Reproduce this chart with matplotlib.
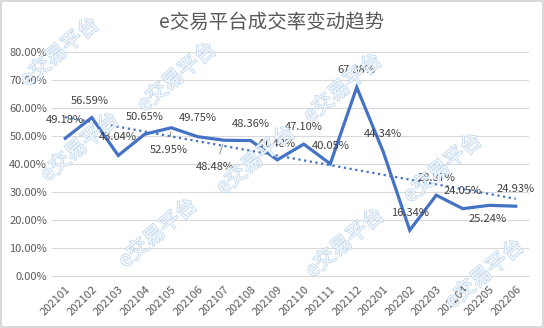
import numpy as np
import matplotlib.pyplot as plt
import matplotlib.patheffects as pe

plt.rcParams['font.family'] = ['Noto Sans CJK SC', 'DejaVu Sans']

# 成交率（%）
months = ['202101', '202102', '202103', '202104', '202105', '202106',
          '202107', '202108', '202109', '202110', '202111', '202112',
          '202201', '202202', '202203', '202204', '202205', '202206']
rate = [49.18, 56.59, 43.04, 50.65, 52.95, 49.75, 48.48, 48.36, 41.48,
        47.10, 40.05, 67.38, 44.34, 16.34, 28.87, 24.05, 25.24, 24.93]
y_ticks = [0, 10, 20, 30, 40, 50, 60, 70, 80]
title = 'e交易平台成交率变动趋势'
watermark = 'e交易平台'

# label placement (pixels relative to point)
label_dx = [0, -2, 0, 0, -3, 0, -9, 0, 0, 0, 0, 0, 0, 0, 0, 0, -2, 0]
label_dy = [18, 17, 18, 17, -22, 19, -27, 17, 16, 17, 18, 17, 18, 17, 17, 18, -14, 17]
# watermark centres in pixels (x from left, y from top)
wm_pos = [(60, 52), (177, 77), (80, 147), (158, 233), (256, 160),
          (343, 88), (345, 243), (443, 168), (485, 274)]

fig = plt.figure(figsize=(5.44, 3.28), dpi=100)
fig.patch.set_facecolor('white')
fig.patch.set_edgecolor('#D9D9D9')
fig.patch.set_linewidth(1.5)
ax = fig.add_axes([52 / 544, 52 / 328, 477 / 544, 224 / 328])

x = np.arange(len(months))
y = np.array(rate)

ax.plot(x, y, color='#4472C4', linewidth=2.3, solid_joinstyle='miter', zorder=3)

# linear trend line
coef = np.polyfit(x, y, 1)
ax.plot(x, np.polyval(coef, x), color='#4472C4', linestyle=(0, (1, 1.6)),
        linewidth=1.6, zorder=2)

for i, v in enumerate(rate):
    kw = {}
    if label_dy[i] < -20:
        kw['arrowprops'] = dict(arrowstyle='-', color='#7F7F7F', lw=0.6,
                                shrinkA=4, shrinkB=3)
    ax.annotate(f'{v:.2f}%', (x[i], v), xytext=(label_dx[i], label_dy[i]),
                textcoords='offset pixels', ha='center', va='center',
                fontsize=8, color='#404040', zorder=4, **kw)

ax.set_xlim(-0.5, len(months) - 0.5)
ax.set_ylim(0, 80)
ax.set_yticks(y_ticks)
ax.set_yticklabels([f'{t:.2f}%' for t in y_ticks])
ax.set_xticks(x)
ax.set_xticklabels(months, rotation=45, ha='right', rotation_mode='anchor')
ax.tick_params(axis='both', length=0, labelsize=8, colors='#595959')
ax.tick_params(axis='x', pad=6)
ax.grid(axis='y', color='#D9D9D9', linewidth=0.8)
ax.set_axisbelow(True)
for s in ['top', 'right', 'left']:
    ax.spines[s].set_visible(False)
ax.spines['bottom'].set_color('#D9D9D9')

fig.text(0.5, 1 - 22 / 328, title, ha='center', va='center',
         fontsize=14, color='#595959')

for px, py in wm_pos:
    fig.text(px / 544, 1 - py / 328, watermark, ha='center', va='center',
             rotation=40, fontsize=15, color='white', alpha=0.85, zorder=10,
             path_effects=[pe.Stroke(linewidth=1.1, foreground='#B4D0EC'),
                           pe.Normal()])

fig.savefig('out.png', dpi=100, facecolor=fig.get_facecolor(),
            edgecolor=fig.get_edgecolor())
